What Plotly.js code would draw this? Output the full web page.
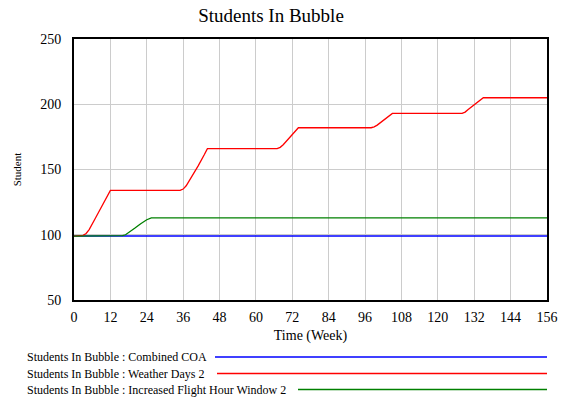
<!DOCTYPE html>
<html>
<head>
<meta charset="utf-8">
<script src="https://cdn.plot.ly/plotly-3.0.1.min.js"></script>
<style>html,body{margin:0;padding:0;background:#fff;}#chart{width:563px;height:397px;}</style>
</head>
<body>
<div id="chart"></div>
<script>
const chartTitle = "Students In Bubble";
const xTitle = "Time (Week)";
const yTitle = "Student";
const seriesNames = [
  "Students In Bubble : Combined COA",
  "Students In Bubble : Weather Days 2",
  "Students In Bubble : Increased Flight Hour Window 2"
];
const seriesColors = ["#0000ff", "#ff0000", "#008000"];

const blueT = [0, 156];
const blueV = [99, 99];

const redT = [0, 2, 3, 4, 5, 7, 9, 11, 12,
  35, 36, 37, 39, 41, 43, 44,
  67, 68, 69, 71, 73, 74,
  98, 99, 100, 102, 104, 105,
  128, 129, 130, 132, 134, 135, 156];
const redV = [99, 99, 99.5, 101, 104, 112.5, 121, 129.7, 134,
  134, 135, 137.5, 145, 153, 161.5, 166,
  166, 167, 169, 174, 179.5, 182,
  182, 182.7, 184, 187.5, 191, 193,
  193, 194, 196, 199.5, 203, 205, 205];

const greenT = [0, 16, 17, 18, 20, 22, 24, 25.5, 156];
const greenV = [99, 99.3, 100, 101.5, 105, 108.5, 111.5, 113, 113];

const xTicks = [0, 12, 24, 36, 48, 60, 72, 84, 96, 108, 120, 132, 144, 156];
const yTicks = [50, 100, 150, 200, 250];

const FONT = '"Liberation Serif", "Times New Roman", serif';

const traces = [
  {x: blueT, y: blueV, name: seriesNames[0], mode: "lines", line: {color: seriesColors[0], width: 1.5}},
  {x: redT, y: redV, name: seriesNames[1], mode: "lines", line: {color: seriesColors[1], width: 1.3}},
  {x: greenT, y: greenV, name: seriesNames[2], mode: "lines", line: {color: seriesColors[2], width: 1.3}}
];

const L = 74, R = 547, W = R - L;
const px = v => (v - L) / W;
const T = 39, B = 300, H = B - T;
const py = v => (B - v) / H;

const legendRows = [357, 373.5, 389.5];
const legendLineStart = [215, 217, 298];

const annotations = [];
const shapes = [];
for (let i = 0; i < seriesNames.length; i++) {
  annotations.push({
    text: seriesNames[i], xref: "paper", yref: "paper",
    x: px(25), y: py(legendRows[i]), xanchor: "left", yanchor: "middle",
    showarrow: false, font: {family: FONT, size: 12, color: "#000"}
  });
  shapes.push({
    type: "line", xref: "paper", yref: "paper",
    x0: px(legendLineStart[i]), x1: px(R), y0: py(legendRows[i]), y1: py(legendRows[i]),
    line: {color: seriesColors[i], width: 1.3}
  });
}

const layout = {
  width: 563, height: 397,
  margin: {l: L, r: 563 - R, t: T, b: 397 - B},
  paper_bgcolor: "#fff", plot_bgcolor: "#fff",
  showlegend: false,
  title: {text: chartTitle, font: {family: FONT, size: 19, color: "#000"}, x: 271 / 563, xanchor: "center", y: 1 - 15 / 397, yanchor: "middle"},
  font: {family: FONT, color: "#000"},
  xaxis: {
    range: [0, 156], tickvals: xTicks, ticktext: xTicks.map(String),
    showgrid: true, gridcolor: "#cccccc", gridwidth: 1,
    showline: true, linecolor: "#000", linewidth: 2, mirror: true,
    zeroline: false, ticks: "", ticklabelstandoff: 3, tickfont: {family: FONT, size: 14, color: "#000"},
    title: {text: xTitle, font: {family: FONT, size: 14, color: "#000"}, standoff: 6}
  },
  yaxis: {
    range: [50, 250], tickvals: yTicks, ticktext: yTicks.map(String),
    showgrid: true, gridcolor: "#cccccc", gridwidth: 1,
    showline: true, linecolor: "#000", linewidth: 2, mirror: true,
    zeroline: false, ticks: "", ticklabelstandoff: 8, tickfont: {family: FONT, size: 14, color: "#000"},
    title: {text: yTitle, font: {family: FONT, size: 11, color: "#000"}, standoff: 16}
  },
  annotations: annotations,
  shapes: shapes
};

Plotly.newPlot("chart", traces, layout, {displayModeBar: false, staticPlot: true});
</script>
</body>
</html>
